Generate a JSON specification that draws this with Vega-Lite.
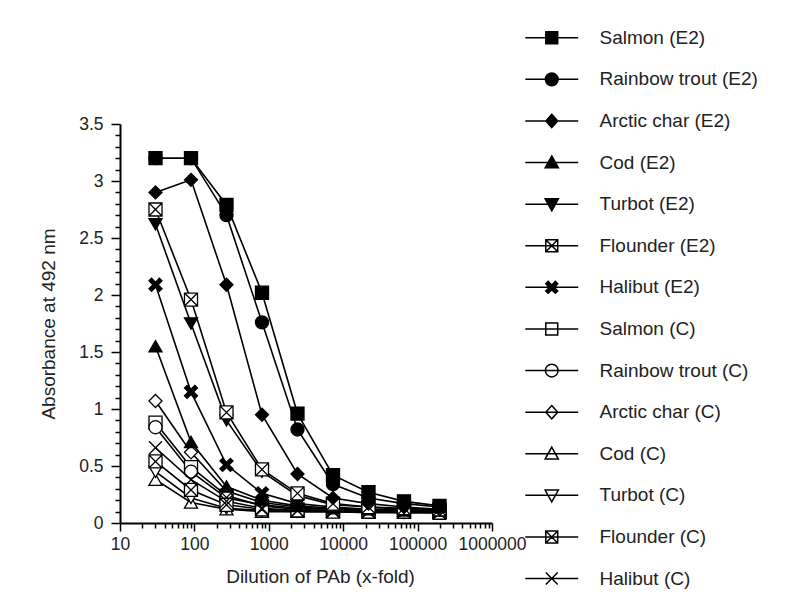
{
  "$schema": "https://vega.github.io/schema/vega-lite/v6.json",
  "description": "ELISA titration curves of PAb against fish samples (E2 and control)",
  "width": 372,
  "height": 399,
  "autosize": {"type": "none"},
  "padding": {"left": 120, "top": 124, "right": 308, "bottom": 77},
  "data": {
    "values": [
      {"series": "Salmon (C)", "dilution": 30, "absorbance": 0.88},
      {"series": "Salmon (C)", "dilution": 90, "absorbance": 0.49},
      {"series": "Salmon (C)", "dilution": 270, "absorbance": 0.24},
      {"series": "Salmon (C)", "dilution": 810, "absorbance": 0.15},
      {"series": "Salmon (C)", "dilution": 2430, "absorbance": 0.12},
      {"series": "Salmon (C)", "dilution": 7290, "absorbance": 0.11},
      {"series": "Salmon (C)", "dilution": 21870, "absorbance": 0.11},
      {"series": "Salmon (C)", "dilution": 65610, "absorbance": 0.10},
      {"series": "Salmon (C)", "dilution": 196830, "absorbance": 0.10},
      {"series": "Rainbow trout (C)", "dilution": 30, "absorbance": 0.84},
      {"series": "Rainbow trout (C)", "dilution": 90, "absorbance": 0.45},
      {"series": "Rainbow trout (C)", "dilution": 270, "absorbance": 0.22},
      {"series": "Rainbow trout (C)", "dilution": 810, "absorbance": 0.16},
      {"series": "Rainbow trout (C)", "dilution": 2430, "absorbance": 0.13},
      {"series": "Rainbow trout (C)", "dilution": 7290, "absorbance": 0.12},
      {"series": "Rainbow trout (C)", "dilution": 21870, "absorbance": 0.11},
      {"series": "Rainbow trout (C)", "dilution": 65610, "absorbance": 0.11},
      {"series": "Rainbow trout (C)", "dilution": 196830, "absorbance": 0.10},
      {"series": "Arctic char (C)", "dilution": 30, "absorbance": 1.07},
      {"series": "Arctic char (C)", "dilution": 90, "absorbance": 0.62},
      {"series": "Arctic char (C)", "dilution": 270, "absorbance": 0.28},
      {"series": "Arctic char (C)", "dilution": 810, "absorbance": 0.18},
      {"series": "Arctic char (C)", "dilution": 2430, "absorbance": 0.14},
      {"series": "Arctic char (C)", "dilution": 7290, "absorbance": 0.12},
      {"series": "Arctic char (C)", "dilution": 21870, "absorbance": 0.11},
      {"series": "Arctic char (C)", "dilution": 65610, "absorbance": 0.11},
      {"series": "Arctic char (C)", "dilution": 196830, "absorbance": 0.10},
      {"series": "Cod (C)", "dilution": 30, "absorbance": 0.38},
      {"series": "Cod (C)", "dilution": 90, "absorbance": 0.18},
      {"series": "Cod (C)", "dilution": 270, "absorbance": 0.12},
      {"series": "Cod (C)", "dilution": 810, "absorbance": 0.10},
      {"series": "Cod (C)", "dilution": 2430, "absorbance": 0.10},
      {"series": "Cod (C)", "dilution": 7290, "absorbance": 0.10},
      {"series": "Cod (C)", "dilution": 21870, "absorbance": 0.09},
      {"series": "Cod (C)", "dilution": 65610, "absorbance": 0.09},
      {"series": "Cod (C)", "dilution": 196830, "absorbance": 0.09},
      {"series": "Turbot (C)", "dilution": 30, "absorbance": 0.45},
      {"series": "Turbot (C)", "dilution": 90, "absorbance": 0.22},
      {"series": "Turbot (C)", "dilution": 270, "absorbance": 0.13},
      {"series": "Turbot (C)", "dilution": 810, "absorbance": 0.11},
      {"series": "Turbot (C)", "dilution": 2430, "absorbance": 0.10},
      {"series": "Turbot (C)", "dilution": 7290, "absorbance": 0.10},
      {"series": "Turbot (C)", "dilution": 21870, "absorbance": 0.10},
      {"series": "Turbot (C)", "dilution": 65610, "absorbance": 0.09},
      {"series": "Turbot (C)", "dilution": 196830, "absorbance": 0.09},
      {"series": "Flounder (C)", "dilution": 30, "absorbance": 0.54},
      {"series": "Flounder (C)", "dilution": 90, "absorbance": 0.29},
      {"series": "Flounder (C)", "dilution": 270, "absorbance": 0.16},
      {"series": "Flounder (C)", "dilution": 810, "absorbance": 0.12},
      {"series": "Flounder (C)", "dilution": 2430, "absorbance": 0.11},
      {"series": "Flounder (C)", "dilution": 7290, "absorbance": 0.10},
      {"series": "Flounder (C)", "dilution": 21870, "absorbance": 0.10},
      {"series": "Flounder (C)", "dilution": 65610, "absorbance": 0.10},
      {"series": "Flounder (C)", "dilution": 196830, "absorbance": 0.09},
      {"series": "Halibut (C)", "dilution": 30, "absorbance": 0.66},
      {"series": "Halibut (C)", "dilution": 90, "absorbance": 0.38},
      {"series": "Halibut (C)", "dilution": 270, "absorbance": 0.19},
      {"series": "Halibut (C)", "dilution": 810, "absorbance": 0.13},
      {"series": "Halibut (C)", "dilution": 2430, "absorbance": 0.11},
      {"series": "Halibut (C)", "dilution": 7290, "absorbance": 0.11},
      {"series": "Halibut (C)", "dilution": 21870, "absorbance": 0.10},
      {"series": "Halibut (C)", "dilution": 65610, "absorbance": 0.10},
      {"series": "Halibut (C)", "dilution": 196830, "absorbance": 0.10},
      {"series": "Cod (E2)", "dilution": 30, "absorbance": 1.55},
      {"series": "Cod (E2)", "dilution": 90, "absorbance": 0.71},
      {"series": "Cod (E2)", "dilution": 270, "absorbance": 0.32},
      {"series": "Cod (E2)", "dilution": 810, "absorbance": 0.20},
      {"series": "Cod (E2)", "dilution": 2430, "absorbance": 0.15},
      {"series": "Cod (E2)", "dilution": 7290, "absorbance": 0.13},
      {"series": "Cod (E2)", "dilution": 21870, "absorbance": 0.12},
      {"series": "Cod (E2)", "dilution": 65610, "absorbance": 0.11},
      {"series": "Cod (E2)", "dilution": 196830, "absorbance": 0.11},
      {"series": "Halibut (E2)", "dilution": 30, "absorbance": 2.09},
      {"series": "Halibut (E2)", "dilution": 90, "absorbance": 1.15},
      {"series": "Halibut (E2)", "dilution": 270, "absorbance": 0.51},
      {"series": "Halibut (E2)", "dilution": 810, "absorbance": 0.26},
      {"series": "Halibut (E2)", "dilution": 2430, "absorbance": 0.17},
      {"series": "Halibut (E2)", "dilution": 7290, "absorbance": 0.14},
      {"series": "Halibut (E2)", "dilution": 21870, "absorbance": 0.12},
      {"series": "Halibut (E2)", "dilution": 65610, "absorbance": 0.12},
      {"series": "Halibut (E2)", "dilution": 196830, "absorbance": 0.11},
      {"series": "Turbot (E2)", "dilution": 30, "absorbance": 2.62},
      {"series": "Turbot (E2)", "dilution": 90, "absorbance": 1.75},
      {"series": "Turbot (E2)", "dilution": 270, "absorbance": 0.90},
      {"series": "Turbot (E2)", "dilution": 810, "absorbance": 0.45},
      {"series": "Turbot (E2)", "dilution": 2430, "absorbance": 0.24},
      {"series": "Turbot (E2)", "dilution": 7290, "absorbance": 0.16},
      {"series": "Turbot (E2)", "dilution": 21870, "absorbance": 0.14},
      {"series": "Turbot (E2)", "dilution": 65610, "absorbance": 0.12},
      {"series": "Turbot (E2)", "dilution": 196830, "absorbance": 0.12},
      {"series": "Flounder (E2)", "dilution": 30, "absorbance": 2.75},
      {"series": "Flounder (E2)", "dilution": 90, "absorbance": 1.96},
      {"series": "Flounder (E2)", "dilution": 270, "absorbance": 0.97},
      {"series": "Flounder (E2)", "dilution": 810, "absorbance": 0.47},
      {"series": "Flounder (E2)", "dilution": 2430, "absorbance": 0.26},
      {"series": "Flounder (E2)", "dilution": 7290, "absorbance": 0.17},
      {"series": "Flounder (E2)", "dilution": 21870, "absorbance": 0.14},
      {"series": "Flounder (E2)", "dilution": 65610, "absorbance": 0.13},
      {"series": "Flounder (E2)", "dilution": 196830, "absorbance": 0.12},
      {"series": "Arctic char (E2)", "dilution": 30, "absorbance": 2.90},
      {"series": "Arctic char (E2)", "dilution": 90, "absorbance": 3.01},
      {"series": "Arctic char (E2)", "dilution": 270, "absorbance": 2.09},
      {"series": "Arctic char (E2)", "dilution": 810, "absorbance": 0.95},
      {"series": "Arctic char (E2)", "dilution": 2430, "absorbance": 0.43},
      {"series": "Arctic char (E2)", "dilution": 7290, "absorbance": 0.22},
      {"series": "Arctic char (E2)", "dilution": 21870, "absorbance": 0.17},
      {"series": "Arctic char (E2)", "dilution": 65610, "absorbance": 0.14},
      {"series": "Arctic char (E2)", "dilution": 196830, "absorbance": 0.12},
      {"series": "Rainbow trout (E2)", "dilution": 30, "absorbance": 3.20},
      {"series": "Rainbow trout (E2)", "dilution": 90, "absorbance": 3.20},
      {"series": "Rainbow trout (E2)", "dilution": 270, "absorbance": 2.70},
      {"series": "Rainbow trout (E2)", "dilution": 810, "absorbance": 1.76},
      {"series": "Rainbow trout (E2)", "dilution": 2430, "absorbance": 0.82},
      {"series": "Rainbow trout (E2)", "dilution": 7290, "absorbance": 0.34},
      {"series": "Rainbow trout (E2)", "dilution": 21870, "absorbance": 0.22},
      {"series": "Rainbow trout (E2)", "dilution": 65610, "absorbance": 0.17},
      {"series": "Rainbow trout (E2)", "dilution": 196830, "absorbance": 0.14},
      {"series": "Salmon (E2)", "dilution": 30, "absorbance": 3.20},
      {"series": "Salmon (E2)", "dilution": 90, "absorbance": 3.20},
      {"series": "Salmon (E2)", "dilution": 270, "absorbance": 2.79},
      {"series": "Salmon (E2)", "dilution": 810, "absorbance": 2.02},
      {"series": "Salmon (E2)", "dilution": 2430, "absorbance": 0.96},
      {"series": "Salmon (E2)", "dilution": 7290, "absorbance": 0.42},
      {"series": "Salmon (E2)", "dilution": 21870, "absorbance": 0.27},
      {"series": "Salmon (E2)", "dilution": 65610, "absorbance": 0.19},
      {"series": "Salmon (E2)", "dilution": 196830, "absorbance": 0.15}
    ]
  },
  "layer": [
    {
      "mark": {"type": "line", "color": "black", "strokeWidth": 1.6},
      "encoding": {
        "x": {
          "field": "dilution", "type": "quantitative",
          "scale": {"type": "log", "domain": [10, 1000000]},
          "axis": {
            "title": "Dilution of PAb (x-fold)",
            "titleX": 200,
            "tickCount": 200,
            "values": [10, 20, 30, 40, 50, 60, 70, 80, 90, 100, 200, 300, 400, 500, 600, 700, 800, 900, 1000, 2000, 3000, 4000, 5000, 6000, 7000, 8000, 9000, 10000, 20000, 30000, 40000, 50000, 60000, 70000, 80000, 90000, 100000, 200000, 300000, 400000, 500000, 600000, 700000, 800000, 900000, 1000000],
            "labelExpr": "indexof([10, 100, 1000, 10000, 100000, 1000000], datum.value) >= 0 ? format(datum.value, 'd') : ''",
            "tickSize": {"condition": {"test": "indexof([10, 100, 1000, 10000, 100000, 1000000], datum.value) >= 0", "value": 8}, "value": 5},
            "labelPadding": 4, "titlePadding": 15,
            "labelFlush": false, "labelOverlap": false
          }
        },
        "y": {
          "field": "absorbance", "type": "quantitative",
          "scale": {"domain": [0, 3.5], "nice": false, "zero": true},
          "axis": {
            "title": "Absorbance at  492 nm",
            "tickCount": 200,
            "values": [0, 0.1, 0.2, 0.3, 0.4, 0.5, 0.6, 0.7, 0.8, 0.9, 1, 1.1, 1.2, 1.3, 1.4, 1.5, 1.6, 1.7, 1.8, 1.9, 2, 2.1, 2.2, 2.3, 2.4, 2.5, 2.6, 2.7, 2.8, 2.9, 3, 3.1, 3.2, 3.3, 3.4, 3.5],
            "labelExpr": "abs(datum.value * 2 - round(datum.value * 2)) < 0.001 ? format(datum.value, '~g') : ''",
            "tickSize": {"condition": {"test": "abs(datum.value * 2 - round(datum.value * 2)) < 0.001", "value": 9}, "value": 5},
            "labelPadding": 8, "titlePadding": 20, "labelOverlap": false
          }
        },
        "detail": {"field": "series"}
      }
    },
    {
      "mark": {"type": "point", "stroke": "black", "strokeWidth": 1.3, "opacity": 1, "size": 170},
      "encoding": {
        "x": {"field": "dilution", "type": "quantitative"},
        "y": {"field": "absorbance", "type": "quantitative"},
        "shape": {
          "field": "series", "type": "nominal", "legend": null,
          "scale": {
            "domain": ["Salmon (E2)", "Rainbow trout (E2)", "Arctic char (E2)", "Cod (E2)", "Turbot (E2)", "Flounder (E2)", "Halibut (E2)", "Salmon (C)", "Rainbow trout (C)", "Arctic char (C)", "Cod (C)", "Turbot (C)", "Flounder (C)", "Halibut (C)"],
            "range": ["square", "circle", "diamond", "triangle-up", "triangle-down", "M-1,-1H1V1H-1ZM-1,-1L1,1M1,-1L-1,1", "M-1,-0.6L-0.6,-1L0,-0.4L0.6,-1L1,-0.6L0.4,0L1,0.6L0.6,1L0,0.4L-0.6,1L-1,0.6L-0.4,0Z", "square", "circle", "diamond", "triangle-up", "triangle-down", "M-1,-1H1V1H-1ZM-1,-1L1,1M1,-1L-1,1", "M-1,-1L1,1M1,-1L-1,1"]
          }
        },
        "fill": {
          "field": "series", "type": "nominal", "legend": null,
          "scale": {
            "domain": ["Salmon (E2)", "Rainbow trout (E2)", "Arctic char (E2)", "Cod (E2)", "Turbot (E2)", "Flounder (E2)", "Halibut (E2)", "Salmon (C)", "Rainbow trout (C)", "Arctic char (C)", "Cod (C)", "Turbot (C)", "Flounder (C)", "Halibut (C)"],
            "range": ["black", "black", "black", "black", "black", "white", "black", "white", "white", "white", "white", "white", "white", "white"]
          }
        }
      }
    },
    {
      "mark": {"type": "point", "stroke": "black", "strokeWidth": 1.5, "opacity": 0},
      "encoding": {
        "x": {"field": "dilution", "type": "quantitative"},
        "y": {"field": "absorbance", "type": "quantitative"},
        "shape": {
          "field": "series", "type": "nominal",
          "scale": {
            "domain": ["Salmon (E2)", "Rainbow trout (E2)", "Arctic char (E2)", "Cod (E2)", "Turbot (E2)", "Flounder (E2)", "Halibut (E2)", "Salmon (C)", "Rainbow trout (C)", "Arctic char (C)", "Cod (C)", "Turbot (C)", "Flounder (C)", "Halibut (C)"],
            "range": [
              "M-2,0H2M-0.45,-0.45H0.45V0.45H-0.45Z",
              "M-2,0H2M0.48,0A0.48,0.48,0,1,1,-0.48,0A0.48,0.48,0,1,1,0.48,0Z",
              "M-2,0H2M0,-0.5L0.45,0L0,0.5L-0.45,0Z",
              "M-2,0H2M0,-0.5L0.5,0.4H-0.5Z",
              "M-2,0H2M0,0.5L0.5,-0.4H-0.5Z",
              "M-2,0H2M-0.45,-0.45H0.45V0.45H-0.45ZM-0.45,-0.45L0.45,0.45M0.45,-0.45L-0.45,0.45",
              "M-2,0H2M-0.45,-0.27L-0.27,-0.45L0,-0.18L0.27,-0.45L0.45,-0.27L0.18,0L0.45,0.27L0.27,0.45L0,0.18L-0.27,0.45L-0.45,0.27L-0.18,0Z",
              "M-2,0H2M-0.45,-0.45H0.45V0.45H-0.45Z",
              "M-2,0H2M0.48,0A0.48,0.48,0,1,1,-0.48,0A0.48,0.48,0,1,1,0.48,0Z",
              "M-2,0H2M0,-0.5L0.45,0L0,0.5L-0.45,0Z",
              "M-2,0H2M0,-0.5L0.5,0.4H-0.5Z",
              "M-2,0H2M0,0.5L0.5,-0.4H-0.5Z",
              "M-2,0H2M-0.45,-0.45H0.45V0.45H-0.45ZM-0.45,-0.45L0.45,0.45M0.45,-0.45L-0.45,0.45",
              "M-2,0H2M-0.45,-0.45L0.45,0.45M0.45,-0.45L-0.45,0.45"
            ]
          },
          "legend": {
            "title": null, "orient": "none", "legendX": 417.75, "legendY": -100.25,
            "padding": 0, "symbolSize": 702, "symbolStrokeWidth": 1.5, "symbolStrokeColor": "black",
            "symbolOpacity": 1, "rowPadding": 17.6, "labelOffset": 33.75, "labelLimit": 300,
            "labelFont": "Liberation Sans", "labelFontSize": 19, "labelColor": "#222",
            "encode": {"symbols": {"update": {"opacity": {"value": 1}, "stroke": {"value": "black"}}}}
          }
        },
        "fill": {
          "field": "series", "type": "nominal",
          "scale": {
            "domain": ["Salmon (E2)", "Rainbow trout (E2)", "Arctic char (E2)", "Cod (E2)", "Turbot (E2)", "Flounder (E2)", "Halibut (E2)", "Salmon (C)", "Rainbow trout (C)", "Arctic char (C)", "Cod (C)", "Turbot (C)", "Flounder (C)", "Halibut (C)"],
            "range": ["black", "black", "black", "black", "black", "white", "black", "white", "white", "white", "white", "white", "white", "white"]
          },
          "legend": {
            "title": null, "orient": "none", "legendX": 417.75, "legendY": -100.25,
            "padding": 0, "symbolSize": 702, "symbolStrokeWidth": 1.5, "symbolStrokeColor": "black",
            "symbolOpacity": 1, "rowPadding": 17.6, "labelOffset": 33.75, "labelLimit": 300,
            "labelFont": "Liberation Sans", "labelFontSize": 19, "labelColor": "#222",
            "encode": {"symbols": {"update": {"opacity": {"value": 1}, "stroke": {"value": "black"}}}}
          }
        }
      }
    }
  ],
  "resolve": {
    "scale": {"shape": "independent", "fill": "independent"}
  },
  "config": {
    "view": {"stroke": null},
    "axis": {
      "grid": false,
      "domainColor": "black", "domainWidth": 2,
      "tickColor": "black", "tickWidth": 1.5,
      "labelFont": "Liberation Sans", "labelFontSize": 17.5, "labelColor": "#222",
      "titleFont": "Liberation Sans", "titleFontSize": 19, "titleFontWeight": "normal", "titleColor": "#222"
    }
  }
}
